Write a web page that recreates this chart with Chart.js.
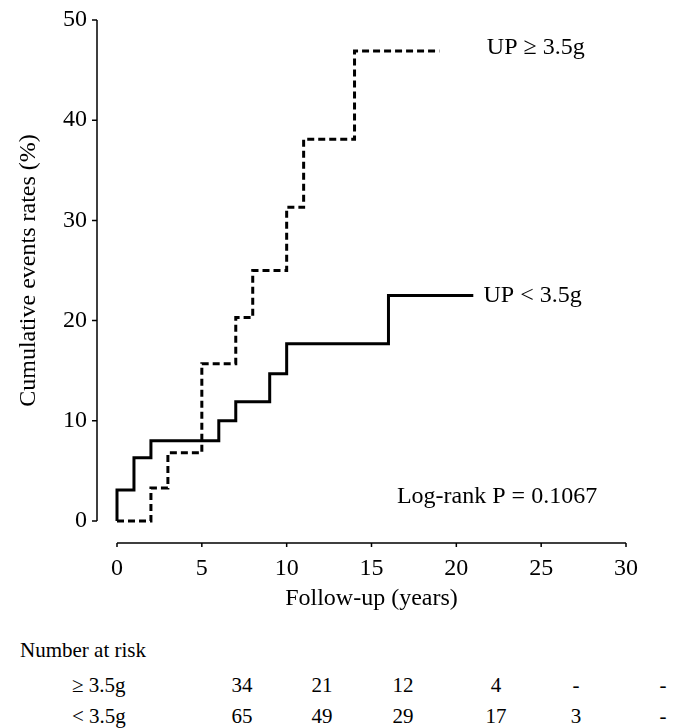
<!DOCTYPE html>
<html>
<head>
<meta charset="utf-8">
<script src="https://cdn.jsdelivr.net/npm/chart.js@4.4.1/dist/chart.umd.min.js"></script>
<style>
  body { margin: 0; background: #fff; }
  #wrap { position: relative; width: 676px; height: 728px; font-family: 'Liberation Serif', 'Times New Roman', serif; color: #000; }
  #risk span { position: absolute; font-size: 21px; line-height: 24px; white-space: nowrap; }
</style>
</head>
<body>
<div id="wrap">
  <canvas id="kmChart" width="676" height="620"></canvas>
  <div id="risk"></div>
</div>
<script>
// cumulative event rates (step changes)
const highTimes = [0, 2, 3, 5, 7, 8, 10, 11, 14, 19];
const highRates = [0, 3.3, 6.8, 15.7, 20.3, 25.0, 31.3, 38.1, 46.9, 46.9];
const lowTimes = [0, 0, 1, 2, 6, 7, 9, 10, 16, 21];
const lowRates = [0, 3.1, 6.3, 8.0, 10.0, 11.9, 14.7, 17.7, 22.5, 22.5];
const seriesNames = ['UP \u2265 3.5g', 'UP < 3.5g'];

const xTicks = [0, 5, 10, 15, 20, 25, 30];
const yTicks = [0, 10, 20, 30, 40, 50];

const riskGroups = ['\u2265 3.5g', '< 3.5g'];
const riskHigh = ['34', '21', '12', '4', '-', '-'];
const riskLow = ['65', '49', '29', '17', '3', '-'];
const pText = 'Log-rank P = 0.1067';

const serif = "'Liberation Serif', 'Times New Roman', serif";

function toPoints(ts, vs) {
  return ts.map((t, i) => ({ x: t, y: vs[i] }));
}

// R-style detached axes + curve labels
const extras = {
  id: 'extras',
  afterDraw(chart) {
    const { ctx, scales: { x, y } } = chart;
    ctx.save();
    ctx.strokeStyle = '#000';
    ctx.lineWidth = 1.5;

    // y axis, sits a bit left of x=0
    const ax = x.getPixelForValue(0) - 20;
    ctx.beginPath();
    ctx.moveTo(ax, y.getPixelForValue(0));
    ctx.lineTo(ax, y.getPixelForValue(50));
    yTicks.forEach(v => {
      const py = y.getPixelForValue(v);
      ctx.moveTo(ax - 5, py);
      ctx.lineTo(ax, py);
    });
    ctx.stroke();

    // x axis, below y=0
    const ay = y.getPixelForValue(0) + 22;
    ctx.beginPath();
    ctx.moveTo(x.getPixelForValue(0), ay);
    ctx.lineTo(x.getPixelForValue(30), ay);
    xTicks.forEach(v => {
      const px = x.getPixelForValue(v);
      ctx.moveTo(px, ay);
      ctx.lineTo(px, ay + 4);
    });
    ctx.stroke();

    ctx.fillStyle = '#000';
    ctx.font = '24px ' + serif;
    ctx.textBaseline = 'middle';
    ctx.textAlign = 'left';
    ctx.fillText(seriesNames[0], x.getPixelForValue(21.8), y.getPixelForValue(highRates[highRates.length - 1]) - 3);
    ctx.fillText(seriesNames[1], x.getPixelForValue(21.6), y.getPixelForValue(lowRates[lowRates.length - 1]));
    ctx.fillText(pText, x.getPixelForValue(16.5), y.getPixelForValue(2.4));
    ctx.restore();
  }
};

function draw() {
  new Chart(document.getElementById('kmChart'), {
    type: 'line',
    data: {
      datasets: [{
        label: seriesNames[0],
        data: toPoints(highTimes, highRates),
        borderColor: '#000',
        borderWidth: 3,
        borderDash: [7, 4],
        stepped: 'before',
        pointRadius: 0,
        fill: false,
        clip: false
      }, {
        label: seriesNames[1],
        data: toPoints(lowTimes, lowRates),
        borderColor: '#000',
        borderWidth: 3,
        stepped: 'before',
        pointRadius: 0,
        fill: false,
        clip: false
      }]
    },
    options: {
      responsive: false,
      animation: false,
      layout: { padding: { top: 20, right: 50, bottom: 0, left: 0 } },
      plugins: { legend: { display: false }, tooltip: { enabled: false } },
      scales: {
        x: {
          type: 'linear',
          min: 0,
          max: 30,
          afterFit: s => { s.height = 99; },
          afterBuildTicks: s => { s.ticks = xTicks.map(v => ({ value: v })); },
          border: { display: false },
          grid: { display: false },
          ticks: { color: '#000', padding: 25, maxRotation: 0, font: { family: serif, size: 24 } },
          title: { display: true, text: 'Follow-up (years)', color: '#000', padding: { bottom: 7 }, font: { family: serif, size: 24 } }
        },
        y: {
          min: 0,
          max: 50,
          afterFit: s => { s.width = 117; },
          afterBuildTicks: s => { s.ticks = yTicks.map(v => ({ value: v })); },
          border: { display: false },
          // hidden tick length only pushes the labels left (padding would also eat the top)
          grid: { display: false, tickLength: 30 },
          ticks: { color: '#000', padding: 0, font: { family: serif, size: 24 } },
          title: { display: true, text: 'Cumulative events rates (%)', color: '#000', padding: { top: 14 }, font: { family: serif, size: 24 } }
        }
      }
    },
    plugins: [extras]
  });
}

// number at risk table under the plot
const risk = document.getElementById('risk');
const colX = [242, 322, 403, 496, 576, 663];
function put(text, left, top, centre) {
  const s = document.createElement('span');
  s.textContent = text;
  s.style.top = top + 'px';
  s.style.left = left + 'px';
  if (centre) s.style.transform = 'translateX(-50%)';
  risk.appendChild(s);
}
put('Number at risk', 20, 638, false);
[riskHigh, riskLow].forEach((row, r) => {
  const top = 673 + r * 31;
  put(riskGroups[r], 72, top, false);
  row.forEach((v, i) => put(v, colX[i], top, true));
});

document.fonts.load("24px 'Liberation Serif'").then(draw, draw);
</script>
</body>
</html>
